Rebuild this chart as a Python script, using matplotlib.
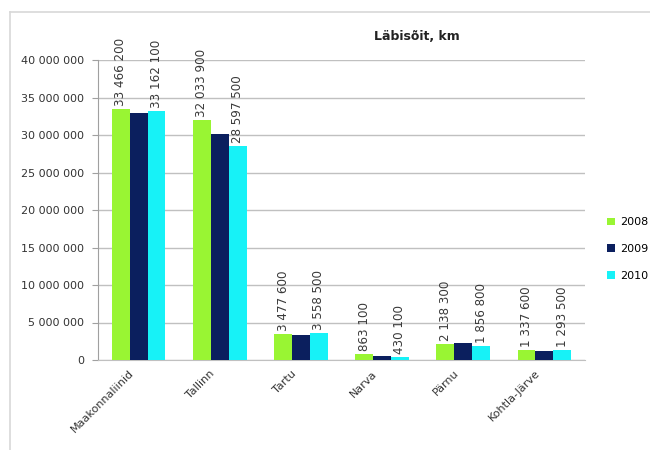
import matplotlib
matplotlib.use("Agg")
import matplotlib.pyplot as plt
import matplotlib.transforms as mtransforms
import numpy as np
from matplotlib.lines import Line2D
from matplotlib.ticker import FuncFormatter

categories = ["Maakonnaliinid", "Tallinn", "Tartu", "Narva", "Pärnu", "Kohtla-Järve"]
years = ["2008", "2009", "2010"]
v2008 = [33466200, 32033900, 3477600, 863100, 2138300, 1337600]
v2009 = [32900000, 30200000, 3400000, 600000, 2250000, 1150000]
v2010 = [33162100, 28597500, 3558500, 430100, 1856800, 1293500]
colors = ["#99f533", "#0b1f5e", "#17f2f7"]
labelled = [True, False, True]

plt.rcParams['font.family'] = ['DejaVu Sans']

fig = plt.figure(figsize=(6.5, 4.5), dpi=100)
ax = fig.add_axes([98/650, 1-360/450, (585-98)/650, 300/450])

x = np.arange(len(categories))
w = 0.22
series = [v2008, v2009, v2010]
for i, (vals, c, lab) in enumerate(zip(series, colors, labelled)):
    pos = x + (i - 1) * w
    ax.bar(pos, vals, width=w, color=c, label=years[i], zorder=3)
    if lab:
        for p, v in zip(pos, vals):
            s = f"{v:,}".replace(",", " ")
            ax.text(p, v + 400000, s, rotation=90, ha='center', va='bottom',
                    fontsize=8.6, color='#3a3a3a', zorder=4)

ax.set_xlim(-0.5, len(categories) - 0.5)
ax.set_ylim(0, 40000000)
ax.set_yticks(np.arange(0, 40000001, 5000000))
ax.yaxis.set_major_formatter(FuncFormatter(lambda v, p: f"{int(v):,}".replace(",", " ")))
ax.grid(axis='y', color='#c0c0c0', linewidth=1, zorder=0)
for s in ['top', 'right']:
    ax.spines[s].set_visible(False)
ax.spines['left'].set_color('#a0a0a0')
ax.spines['bottom'].set_color('#c0c0c0')
ax.tick_params(axis='y', direction='out', length=4, color='#a0a0a0', labelsize=8,
               labelcolor='#333333', pad=6)
ax.tick_params(axis='x', length=0, labelsize=8, labelcolor='#333333', pad=6)
ax.set_xticks(x)
ax.set_xticklabels(categories, rotation=45, ha='right', va='top', rotation_mode='anchor')
offset = mtransforms.ScaledTranslation(-10/100, 0, fig.dpi_scale_trans)
for lbl in ax.get_xticklabels():
    lbl.set_transform(lbl.get_transform() + offset)

fig.text(417/650, 1-37/450, "Läbisõit, km", ha='center', va='center', fontsize=9,
         fontweight='bold', color='#222222')

ax.legend(loc='center left', frameon=False, fontsize=8, handlelength=0.7, handleheight=0.7,
          handletextpad=0.4, labelspacing=1.5, borderaxespad=0)
leg = ax.get_legend()
leg.set_bbox_to_anchor((603/650, 1-249/450), transform=fig.transFigure)

fig.add_artist(Line2D([10/650, 10/650], [0, 1-12/450], transform=fig.transFigure, color='#d8d8d8', lw=1.2))
fig.add_artist(Line2D([10/650, 1], [1-12/450, 1-12/450], transform=fig.transFigure, color='#d8d8d8', lw=1.2))

fig.savefig("out.png", dpi=100)
